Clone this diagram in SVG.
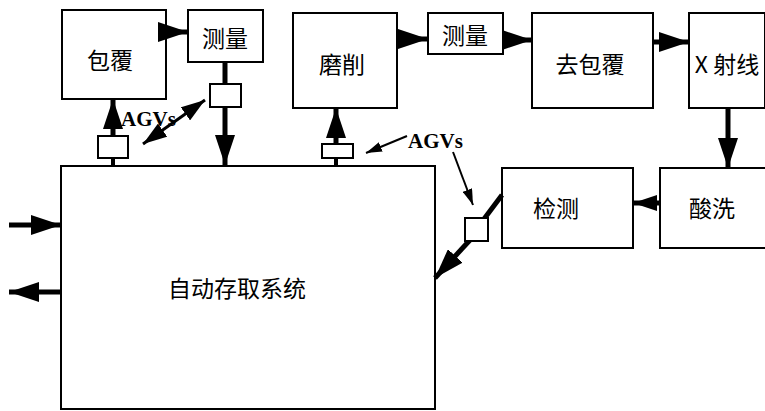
<svg xmlns="http://www.w3.org/2000/svg" width="765" height="411" viewBox="0 0 765 411">
<style>
.box{fill:#fff;stroke:#000;stroke-width:2}
.sq{fill:#fff;stroke:#000;stroke-width:2}
.lbl{font-family:"Noto Sans CJK SC","Liberation Sans",sans-serif;font-size:23px;fill:#000;text-anchor:middle;dominant-baseline:central}
.agv{font-family:"Liberation Serif",serif;font-size:21px;font-weight:bold;fill:#000}
.thick{stroke:#000;stroke-width:5;fill:none}
.stem{stroke:#000;stroke-width:4;fill:none}
.mid{stroke:#000;stroke-width:3;fill:none}
.thin{stroke:#000;stroke-width:2;fill:none}
</style>
<defs>
<marker id="big" markerUnits="userSpaceOnUse" markerWidth="30" markerHeight="20" viewBox="0 0 30 20" refX="30" refY="10" orient="auto"><path d="M0,0 L30,10 L0,20 z" fill="#000"/></marker>
<marker id="med" markerUnits="userSpaceOnUse" markerWidth="24" markerHeight="16" viewBox="0 0 24 16" refX="24" refY="8" orient="auto-start-reverse"><path d="M0,0 L24,8 L0,16 z" fill="#000"/></marker>
<marker id="sm" markerUnits="userSpaceOnUse" markerWidth="16" markerHeight="10" viewBox="0 0 16 10" refX="16" refY="5" orient="auto-start-reverse"><path d="M0,0 L16,5 L0,10 z" fill="#000"/></marker>
</defs>

<g id="n-baofu"><rect class="box" x="62" y="10" width="104" height="89"/><text class="lbl" x="110" y="59">包覆</text></g>
<g id="n-celiang1"><rect class="box" x="188" y="10" width="75" height="52"/><text class="lbl" x="225" y="37">测量</text></g>
<g id="n-moxiao"><rect class="box" x="293" y="13" width="104" height="95"/><text class="lbl" x="342" y="63">磨削</text></g>
<g id="n-celiang2"><rect class="box" x="428" y="13" width="75" height="41"/><text class="lbl" x="465" y="34">测量</text></g>
<g id="n-qubaofu"><rect class="box" x="532" y="13" width="121" height="95"/><text class="lbl" x="590" y="63">去包覆</text></g>
<g id="n-xray"><rect class="box" x="689" y="13" width="76" height="95"/><text class="lbl" x="727" y="63">X 射线</text></g>
<g id="n-jiance"><rect class="box" x="502" y="168" width="131" height="80"/><text class="lbl" x="556" y="207">检测</text></g>
<g id="n-suanxi"><rect class="box" x="660" y="168" width="106" height="80"/><text class="lbl" x="712" y="207">酸洗</text></g>
<g id="n-asrs"><rect class="box" x="61" y="166" width="374" height="243"/><text class="lbl" x="237" y="287">自动存取系统</text></g>

<g id="connectors">
<line class="thick" x1="158" y1="32" x2="188" y2="32" marker-end="url(#big)"/>
<line class="thick" x1="225" y1="62" x2="225" y2="84"/>
<line class="thick" x1="225" y1="107" x2="225" y2="165" marker-end="url(#big)"/>
<line class="stem" x1="113" y1="158" x2="113" y2="166"/>
<line class="thick" x1="113" y1="136" x2="113" y2="99" marker-end="url(#big)"/>
<line class="mid" x1="143" y1="144" x2="205" y2="100" marker-start="url(#med)" marker-end="url(#med)"/>
<line class="stem" x1="336" y1="158" x2="336" y2="166"/>
<line class="thick" x1="336" y1="144" x2="336" y2="108" marker-end="url(#big)"/>
<line class="thick" x1="397" y1="39" x2="428" y2="39" marker-end="url(#big)"/>
<line class="thick" x1="503" y1="40" x2="532" y2="40" marker-end="url(#big)"/>
<line class="thick" x1="653" y1="42" x2="689" y2="42" marker-end="url(#big)"/>
<line class="thick" x1="728" y1="108" x2="728" y2="168" marker-end="url(#big)"/>
<line class="thick" x1="660" y1="203" x2="633" y2="203" marker-end="url(#med)"/>
<line class="thick" x1="502" y1="195" x2="484" y2="219"/>
<line class="thick" x1="470" y1="240" x2="435" y2="278" marker-end="url(#big)"/>
<line class="thin" x1="407" y1="136" x2="366" y2="153" marker-end="url(#sm)"/>
<line class="thin" x1="453" y1="152" x2="473" y2="205" marker-end="url(#sm)"/>
<line class="thick" x1="9" y1="225" x2="61" y2="225" marker-end="url(#big)"/>
<line class="thick" x1="61" y1="292" x2="9" y2="292" marker-end="url(#big)"/>
</g>

<g id="agv1"><rect class="sq" x="98" y="136" width="30" height="22"/></g>
<g id="agv2"><rect class="sq" x="210" y="84" width="31" height="23"/></g>
<g id="agv3"><rect class="sq" x="322" y="144" width="31" height="14"/></g>
<g id="agv4"><rect class="sq" x="465" y="218" width="23" height="23"/></g>

<g id="labels">
<text class="agv" x="121" y="126">AGVs</text>
<text class="agv" x="408" y="148">AGVs</text>
</g>
</svg>
